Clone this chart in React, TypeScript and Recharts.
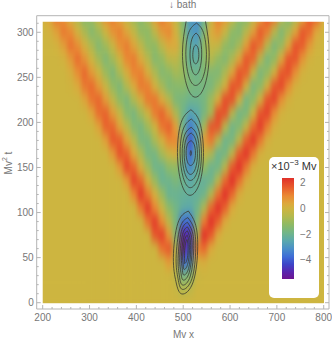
import React from "react";
import { ComposedChart, Scatter, Line, XAxis, YAxis } from "recharts";

const W = 332, H = 340;
const FONT = "'Liberation Sans', Arial, sans-serif";
const FRAME = "#b4b4b4", TXT = "#777777";

const xCols = [200,215,230,245,260,275,290,305,320,335,350,365,380,395,410,425,440,455,470,485,500,515,530,545,560,575,590,605,620,635,650,665,680,695,710,725,740,755,770,785,800];
const tRows = [315,300,285,270,255,240,225,210,195,180,165,150,135,120,105,90,75,60,45,30,15,0];
const heat: number[][] = [
[.1,.4,1.1,.8,.1,-.5,-1.2,-.9,-.1,.7,1,.4,-.2,-.8,-1.2,-.6,.5,1.1,.5,-.2,-1.3,-2.5,-2.7,-1.7,-.2,1,.6,-.2,-1.1,-1.2,-.3,.6,1.5,1.1,-.4,-1.3,-.6,.4,1.5,1.3,.3],
[0,.1,.45,1.1,.85,.1,-.6,-1.25,-.8,0,.7,1,.4,-.2,-1,-1.1,-.3,.6,.9,.1,-1.1,-2.4,-2.6,-1.3,.3,.6,-.1,-1.1,-1.25,-.4,.5,1.5,1,-.4,-1.35,-.6,.4,1.55,1.3,.35,0],
[0,0,.1,.5,1.2,.8,.1,-.6,-1.3,-.8,-.1,.75,1.05,.4,-.3,-1,-1.05,-.3,.3,.3,-.8,-2,-2.3,-1,-.1,-.2,-1,-1.25,-.7,.5,1.55,1.15,-.4,-1.4,-.9,.35,1.6,1.45,.6,.1,0],
[0,0,0,.1,.6,1.25,.7,0,-.75,-1.35,-.75,0,.9,1.05,.3,-.4,-1.25,-1,-.35,-.3,-.9,-1.9,-2,-1.2,-.5,-1,-1.3,-.6,.4,1.55,1.3,-.4,-1.45,-1,.35,1.6,1.55,.65,.1,0,0],
[0,0,0,0,.2,.8,1.3,.6,0,-.85,-1.4,-.6,.2,.95,1,.2,-.6,-1.3,-1.1,-.7,-.9,-1.5,-1.7,-1.3,-1.3,-1.35,-.6,.4,1.6,1.4,-.2,-1.45,-1,.1,1.5,1.65,.75,.1,0,0,0],
[0,0,0,0,.05,.3,1.1,1.3,.6,-.1,-1,-1.4,-.5,.3,1.1,1,.1,-.7,-1.35,-1.2,-1.1,-1.4,-1.5,-1.5,-1.45,-.8,.1,1.6,1.5,.1,-1.5,-1.1,.1,1.55,1.75,.85,.15,0,0,0,0],
[0,0,0,0,0,0,.4,1.15,1.35,.55,-.25,-1.1,-1.45,-.55,.2,1.1,1.15,.3,-.5,-1.4,-1.5,-1.7,-1.7,-1.5,-.8,.2,1.7,1.6,.1,-1.55,-1.1,.1,1.6,1.8,.75,.15,0,0,0,0,0],
[0,0,0,0,0,0,0,.4,1.25,1.4,.55,-.2,-1.2,-1.5,-.75,0,1.05,1.4,.6,-.6,-1.6,-2.3,-2.1,-1.5,-.7,1.7,1.6,-.4,-1.6,-1.4,0,1.6,1.85,.8,.1,0,0,0,0,0,0],
[0,0,0,0,0,0,0,0,.45,1.4,1.35,.4,-.35,-1.3,-1.5,-.8,0,1.15,1.45,.5,-1.7,-3,-2.3,-.7,1.6,1.6,-.4,-1.65,-1.3,-.2,1.3,1.95,1,.2,0,0,0,0,0,0,0],
[0,0,0,0,0,0,0,0,0,.5,1.55,1.45,.45,-.4,-1.45,-1.5,-.65,.1,.9,.9,-1.2,-3.5,-2.2,.6,1.1,-.4,-1.7,-1.5,-.3,1.4,2,1.1,.2,0,0,0,0,0,0,0,0],
[0,0,0,0,0,0,0,0,0,0,.6,1.65,1.4,.35,-.6,-1.55,-1.55,-.7,-.1,.2,-1.4,-3.3,-1.9,-.1,-.6,-1.75,-1.5,-.3,1.5,2.05,1.1,.15,0,0,0,0,0,0,0,0,0],
[0,0,0,0,0,0,0,0,0,0,0,.6,1.8,1.35,.2,-.8,-1.7,-1.7,-1.1,-1,-1.9,-2.8,-1.9,-1,-1.75,-1.6,-.4,1.5,2.2,1.1,.15,0,0,0,0,0,0,0,0,0,0],
[0,0,0,0,0,0,0,0,0,0,0,0,.55,1.85,1.35,.15,-.9,-1.8,-1.7,-1.4,-1.7,-2.1,-1.8,-1.9,-1.7,-.4,1.3,2.3,1.2,.25,0,0,0,0,0,0,0,0,0,0,0],
[0,0,0,0,0,0,0,0,0,0,0,0,0,.9,2,1.1,.15,-.9,-1.8,-1.8,-1.85,-1.9,-1.9,-1.7,-.5,1.2,2.4,1.3,.25,0,0,0,0,0,0,0,0,0,0,0,0],
[0,0,0,0,0,0,0,0,0,0,0,0,0,0,1.1,2,.9,-.1,-1.1,-1.6,-2,-2.1,-1.7,-.6,1.3,2.5,1.4,.3,0,0,0,0,0,0,0,0,0,0,0,0,0],
[0,0,0,0,0,0,0,0,0,0,0,0,0,0,0,1.2,1.95,.8,-.4,-1.5,-3.2,-3.2,-1.3,1,2.5,1.4,.3,0,0,0,0,0,0,0,0,0,0,0,0,0,0],
[0,0,0,0,0,0,0,0,0,0,0,0,0,0,0,0,1.6,1.9,.6,-1.3,-4.4,-4.2,-.6,2.4,1.5,.3,0,0,0,0,0,0,0,0,0,0,0,0,0,0,0],
[0,0,0,0,0,0,0,0,0,0,0,0,0,0,0,0,0,1.2,1.6,-.5,-4.7,-3.6,1,1.3,.3,0,0,0,0,0,0,0,0,0,0,0,0,0,0,0,0],
[0,0,0,0,0,0,0,0,0,0,0,0,0,0,0,0,0,0,.6,-.3,-3.4,-2.8,.1,.2,0,0,0,0,0,0,0,0,0,0,0,0,0,0,0,0,0],
[0,0,0,0,0,0,0,0,0,0,0,0,0,0,0,0,0,0,0,-.3,-1.6,-1.2,-.1,0,0,0,0,0,0,0,0,0,0,0,0,0,0,0,0,0,0],
[0,0,0,0,0,0,0,0,0,0,0,0,0,0,0,0,0,0,0,-.1,-.5,-.3,0,0,0,0,0,0,0,0,0,0,0,0,0,0,0,0,0,0,0],
[0,0,0,0,0,0,0,0,0,0,0,0,0,0,0,0,0,0,0,0,0,0,0,0,0,0,0,0,0,0,0,0,0,0,0,0,0,0,0,0,0],
];

const closedContours: number[][][] = [
[[527,286],[531.5,283],[533.4,275.4],[531.5,268],[526.5,265],[522,268],[520.5,275.4],[522.5,283]],
[[527.5,299.2],[536,292.4],[539.5,276],[535.5,259.6],[526.5,252.8],[518,259.6],[514.5,276],[518.5,292.4]],
[[528.5,310.2],[543,300],[549.6,275.6],[543,251],[526.5,241],[512,251],[505.6,275.6],[512,300]],
[[516.5,214.1],[535.2,200.2],[543.3,166.6],[535.2,133],[514.5,119.1],[495.8,133],[487.7,166.6],[495.8,200.2]],
[[517.2,203.8],[532.3,192.6],[539,165.7],[532.3,138.8],[515.2,127.6],[500.1,138.8],[493.4,165.7],[500.1,192.6]],
[[517,194.6],[529.3,186],[534.7,165.1],[529.3,144.2],[515.4,135.6],[503.1,144.2],[497.7,165.1],[503.1,186]],
[[517,188.3],[526.2,181.6],[530.4,165.3],[526.2,149],[515.6,142.3],[506.2,149],[502,165.3],[506.2,181.6]],
[[516.8,179.8],[523.3,175.8],[526.2,166],[523.3,156.2],[515.8,152.2],[509.1,156.2],[506.2,166],[509.1,175.8]],
[[516.3,168.8],[517.6,166],[516.1,163.2],[514.8,166]],
[[511,101.7],[525.4,88.2],[531,62],[521.4,23.2],[497,9.7],[484.6,23.2],[479,50],[488.6,88.2]],
[[510,94.4],[522.6,82.7],[526.8,60],[518.6,26.5],[498,14.8],[489,26.5],[484.8,49],[493,82.7]],
[[509,89.2],[519.4,79],[522.5,60],[515.4,29.8],[498.6,19.6],[491.8,29.8],[489.1,49],[496,79]],
[[509,84.1],[516.7,75.5],[519,59],[513,33.7],[500,25.1],[495,33.7],[492.6,50],[498.5,75.5]],
[[509,79.7],[514,72.5],[516,59],[511.5,37.9],[501,30.7],[498,37.9],[496.1,51],[501,72.5]],
[[508.5,74.9],[512,69.3],[513.2,58],[509.5,42.5],[502,36.9],[500,42.5],[499,53],[503,69.3]],
[[508,70.1],[510,66],[510.4,58],[508,47.4],[503,43.5],[503,47.4],[502.6,55],[505,66]],
];
const openContours: number[][][] = [
[[547.6,312],[555.4,277.8],[547,242.6],[526,228],[506.7,242.6],[498.4,277.8],[506.2,312]],
];

const colorStops: [number, string][] = [
[2.4,"#E0302A"],[1.7,"#E85A2C"],[1,"#EA8A34"],[.4,"#DDA93C"],[0,"#CDB540"],[-.6,"#B2B94E"],[-1.2,"#8FBA64"],[-1.9,"#70B58A"],[-2.5,"#5AA8AE"],[-3.1,"#4A8FC8"],[-3.7,"#3F6ED6"],[-4.3,"#3D45C8"],[-4.9,"#5A25AE"],[-5.45,"#6E1590"],
];
const legendTicks = [2, 0, -2, -4];
const xMajor = [200,300,400,500,600,700,800];
const tMajor = [0,50,100,150,200,250,300];
const xTicks = [200,220,240,260,280,300,320,340,360,380,400,420,440,460,480,500,520,540,560,580,600,620,640,660,680,700,720,740,760,780,800];
const tTicks = [0,10,20,30,40,50,60,70,80,90,100,110,120,130,140,150,160,170,180,190,200,210,220,230,240,250,260,270,280,290,300,310];

const hex = (s: string) => [1, 3, 5].map((i) => parseInt(s.slice(i, i + 2), 16));
function colorOf(v: number) {
  for (let i = 0; i < colorStops.length - 1; i++) {
    const [a, ca] = colorStops[i], [b, cb] = colorStops[i + 1];
    if (v <= a && v >= b) {
      const f = (a - v) / (a - b), A = hex(ca), B = hex(cb);
      return `rgb(${A.map((c, k) => Math.round(c + (B[k] - c) * f)).join(",")})`;
    }
  }
  return v > 0 ? colorStops[0][1] : colorStops[colorStops.length - 1][1];
}

const plot = { l: 36.7, r: 329, t: 15.7, b: 309 };
const xDomain: [number, number] = [187.19, 811.3];
const tDomain: [number, number] = [-7, 318.4];
const img = { l: 42.7, r: 323.7, t: 21.7, b: 303.3 };
const blurGain = 1.14;
const cellW = (15 * (plot.r - plot.l)) / (xDomain[1] - xDomain[0]);
const cellH = (15 * (plot.b - plot.t)) / (tDomain[1] - tDomain[0]);

const cells = tRows.flatMap((t, r) => xCols.map((x, c) => ({ x, t, v: heat[r]?.[c] ?? 0 })));
const toPts = (a: number[][]) => a.map(([x, t]) => ({ x, t }));

const HeatCell = (p: any) => (
  <rect x={p.cx - cellW / 2 - 0.3} y={p.cy - cellH / 2 - 0.3} width={cellW + 0.6} height={cellH + 0.6} fill={colorOf(p.payload.v * blurGain)} />
);

const TickB = (p: any) => {
  const major = xMajor.includes(p.payload.value);
  return (
    <g>
      <line x1={p.x} x2={p.x} y1={p.y} y2={p.y - (major ? 4 : 2)} stroke={FRAME} />
      {major && <text x={p.x} y={p.y + 12} textAnchor="middle" fontSize={10} fontFamily={FONT} fill={TXT}>{p.payload.value}</text>}
    </g>
  );
};
const TickT = (p: any) => {
  const major = xMajor.includes(p.payload.value);
  return <line x1={p.x} x2={p.x} y1={p.y} y2={p.y + (major ? 4 : 2)} stroke={FRAME} />;
};
const TickL = (p: any) => {
  const major = tMajor.includes(p.payload.value);
  return (
    <g>
      <line x1={p.x} x2={p.x + (major ? 4 : 2)} y1={p.y} y2={p.y} stroke={FRAME} />
      {major && <text x={p.x - 3} y={p.y + 3.5} textAnchor="end" fontSize={10} fontFamily={FONT} fill={TXT}>{p.payload.value}</text>}
    </g>
  );
};
const TickR = (p: any) => {
  const major = tMajor.includes(p.payload.value);
  return <line x1={p.x} x2={p.x - (major ? 4 : 2)} y1={p.y} y2={p.y} stroke={FRAME} />;
};

const abs = (o: React.CSSProperties): React.CSSProperties => ({ position: "absolute", fontFamily: FONT, color: TXT, fontSize: 10, whiteSpace: "nowrap", ...o });
const barTop = 178.3, barBottom = 279;
const vTop = 2.4, vBottom = -5.45;
const gradient = `linear-gradient(to bottom, ${colorStops.map(([v, c]) => `${c} ${(((vTop - v) / (vTop - vBottom)) * 100).toFixed(1)}%`).join(",")})`;

export default function App() {
  return (
    <div style={{ position: "absolute", left: 0, top: 0, width: W, height: H, background: "#fff" }}>
      <style>{`.heat{filter:url(#heatBlur);clip-path:url(#heatClip)}`}</style>
      <svg width={0} height={0} style={{ position: "absolute" }}>
        <defs>
          <filter id="heatBlur" x="-5%" y="-5%" width="110%" height="110%" colorInterpolationFilters="sRGB">
            <feGaussianBlur stdDeviation="2.2 5.5" />
          </filter>
          <clipPath id="heatClip" clipPathUnits="userSpaceOnUse">
            <rect x={img.l} y={img.t} width={img.r - img.l} height={img.b - img.t} />
          </clipPath>
        </defs>
      </svg>
      <div style={{ position: "absolute", left: img.l, top: img.t, width: img.r - img.l, height: img.b - img.t, background: colorStops[4][1] }} />
      <div style={{ position: "absolute", left: 0, top: 0 }}>
        <ComposedChart width={W} height={H} margin={{ left: plot.l - 1, right: W - plot.r - 1, top: plot.t - 1, bottom: H - plot.b - 1 }}>
          <XAxis xAxisId="b" dataKey="x" type="number" domain={xDomain} allowDataOverflow ticks={xTicks} interval={0} height={1} tickSize={0} tickMargin={0} tickLine={false} stroke={FRAME} tick={<TickB />} />
          <XAxis xAxisId="t" orientation="top" type="number" domain={xDomain} allowDataOverflow ticks={xTicks} interval={0} height={1} tickSize={0} tickMargin={0} tickLine={false} stroke={FRAME} tick={<TickT />} />
          <YAxis yAxisId="l" dataKey="t" type="number" domain={tDomain} allowDataOverflow ticks={tTicks} interval={0} width={1} tickSize={0} tickMargin={0} tickLine={false} stroke={FRAME} tick={<TickL />} />
          <YAxis yAxisId="r" orientation="right" type="number" domain={tDomain} allowDataOverflow ticks={tTicks} interval={0} width={1} tickSize={0} tickMargin={0} tickLine={false} stroke={FRAME} tick={<TickR />} />
          <Scatter className="heat" xAxisId="b" yAxisId="l" data={cells} isAnimationActive={false} shape={<HeatCell />} zIndex={1} />
          {[...closedContours.map((c) => [...c, c[0]]), ...openContours].map((c, i) => (
            <Line key={i} xAxisId="b" yAxisId="l" data={toPts(c)} dataKey="t" type="natural" dot={false} activeDot={false} stroke="#3a3a30" strokeOpacity={0.8} strokeWidth={1} isAnimationActive={false} legendType="none" />
          ))}
        </ComposedChart>
      </div>
      <div style={abs({ left: 169, top: -1 })}>↓ bath</div>
      <div style={abs({ left: 173, top: 328.5 })}>Mv x</div>
      <div style={abs({ left: 8, top: 163, transform: "translate(-50%,-50%) rotate(-90deg)" })}>Mv<sup style={{ fontSize: 7, lineHeight: 0 }}>2</sup> t</div>
      <div style={{ position: "absolute", left: 269.3, top: 157, width: 50, height: 141.3, background: "#fff", borderRadius: 5 }} />
      <div style={abs({ left: 271, top: 160, fontSize: 11, color: "#333" })}>×10<sup style={{ fontSize: 8, lineHeight: 0 }}>−3</sup> Mv</div>
      <div style={{ position: "absolute", left: 281.7, top: barTop, width: 12, height: barBottom - barTop, background: gradient }} />
      {legendTicks.map((v) => (
        <div key={v} style={abs({ left: 300, top: barTop + ((vTop - v) / (vTop - vBottom)) * (barBottom - barTop) - 6, color: TXT })}>{v < 0 ? `−${-v}` : v}</div>
      ))}
    </div>
  );
}
